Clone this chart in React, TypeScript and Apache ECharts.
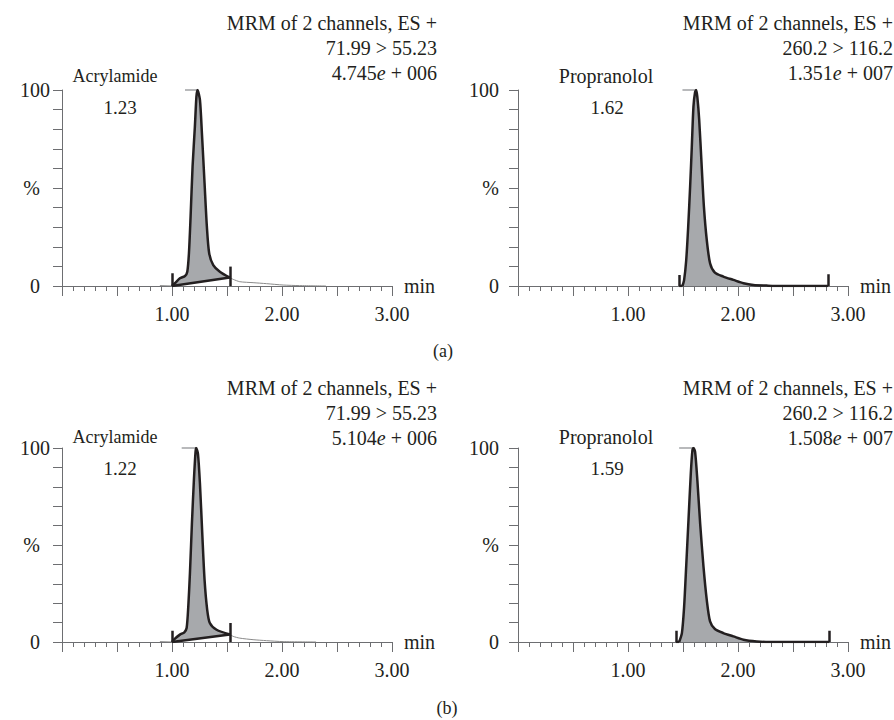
import React, { useEffect, useRef } from 'react';
import * as echarts from 'echarts';

const FONT = '"Liberation Serif","Times New Roman",serif';
const INK = '#231f20';
const AXIS = '#6d6e71';
const FILL = '#a7a9ac';
const THIN = '#8a8a8a';
const APEX = '#a0a2a5';

// axes
const xMin = 0;
const xMax = 3;
const xInterval = 0.5;
const yMin = 0;
const yMax = 100;
const yInterval = 10;
const xLabelValues = [1, 2, 3];
const yLabelValues = [0, 50, 100];
const yLabelTexts = ['0', '%', '100'];

// (a) Acrylamide
const acrA_pre = [[0.89, 0.2], [1.0, 0]];
const acrA_peak = [[1.0, 0], [1.027, 1.4], [1.072, 3.9], [1.118, 5.1], [1.139, 7.3], [1.154, 16.7], [1.169, 35.4], [1.187, 60.9], [1.208, 81.3], [1.222, 96.6], [1.232, 100], [1.254, 94.9], [1.272, 77.9], [1.296, 52.4], [1.317, 30.3], [1.338, 16.7], [1.375, 10.7], [1.435, 7.3], [1.526, 4.3]];
const acrA_tail = [[1.526, 4.3], [1.556, 3.4], [1.616, 2.2], [1.737, 1.7], [1.858, 1.2], [2.01, 0.5], [2.16, 0.2], [2.4, 0]];
const acrA_base = [[1.0, 0], [1.526, 4.3]];
const acrA_markers = [[1.0, 6.5], [1.526, 9.9]];
const acrA_apex = [1.118, 1.232];

// (a) Propranolol
const proA_peak = [[1.495, 0], [1.51, 3], [1.529, 13], [1.547, 30], [1.565, 51], [1.58, 71], [1.595, 91.5], [1.61, 99], [1.62, 100], [1.63, 96.6], [1.647, 85], [1.67, 61], [1.69, 40.5], [1.716, 23.5], [1.746, 11.6], [1.79, 6.8], [1.867, 4.8], [1.958, 3.1], [2.05, 1.4], [2.14, 0.5], [2.26, 0.2], [2.38, 0], [2.82, 0]];
const proA_base = [[1.465, 0], [1.495, 0]];
const proA_markers = [[1.465, 5.6], [2.82, 6.0]];
const proA_apex = [1.495, 1.61];

// (b) Acrylamide
const acrB_pre = [[0.89, 0.2], [1.0, 0]];
const acrB_peak = [[1.0, 0], [1.027, 1.7], [1.072, 3.8], [1.112, 5], [1.133, 7.2], [1.148, 18.3], [1.163, 35.4], [1.181, 61], [1.199, 83.4], [1.214, 98], [1.22, 100], [1.236, 97], [1.254, 81.7], [1.275, 56], [1.296, 32], [1.32, 16.6], [1.344, 9.8], [1.405, 6.3], [1.526, 3.9]];
const acrB_tail = [[1.526, 3.9], [1.556, 2.9], [1.616, 2.0], [1.737, 1.2], [1.858, 0.7], [2.01, 0.2], [2.31, 0]];
const acrB_base = [[1.0, 0], [1.526, 3.9]];
const acrB_markers = [[1.0, 5.8], [1.526, 9.8]];
const acrB_apex = [1.088, 1.22];

// (b) Propranolol
const proB_peak = [[1.465, 0], [1.49, 4.6], [1.51, 18], [1.529, 39], [1.55, 63], [1.571, 87], [1.586, 99], [1.595, 100], [1.61, 98], [1.631, 83], [1.656, 61], [1.686, 39], [1.716, 21.7], [1.746, 10.6], [1.79, 6.7], [1.867, 4.6], [1.958, 2.9], [2.05, 1.2], [2.17, 0.3], [2.29, 0], [2.83, 0]];
const proB_base = [[1.435, 0], [1.465, 0]];
const proB_markers = [[1.435, 5.8], [2.83, 5.8]];
const proB_apex = [1.465, 1.586];

// texts
const panelTitles = [
  ['MRM of 2 channels, ES +', '71.99 > 55.23', '4.745{i|e} + 006'],
  ['MRM of 2 channels, ES +', '260.2 > 116.2', '1.351{i|e} + 007'],
  ['MRM of 2 channels, ES +', '71.99 > 55.23', '5.104{i|e} + 006'],
  ['MRM of 2 channels, ES +', '260.2 > 116.2', '1.508{i|e} + 007'],
];
const compoundNames = ['Acrylamide', 'Propranolol', 'Acrylamide', 'Propranolol'];
const retentionTimes = ['1.23', '1.62', '1.22', '1.59'];
const subLabels = ['(a)', '(b)'];

const grids = [
  { left: 62, top: 90, width: 330, height: 196 },
  { left: 518, top: 90, width: 330, height: 196 },
  { left: 62, top: 448, width: 330, height: 194 },
  { left: 518, top: 448, width: 330, height: 194 },
];

const panels = [
  { pre: acrA_pre, peak: acrA_peak, tail: acrA_tail, base: acrA_base, markers: acrA_markers, apex: acrA_apex, sloped: true },
  { pre: null, peak: proA_peak, tail: null, base: proA_base, markers: proA_markers, apex: proA_apex, sloped: false },
  { pre: acrB_pre, peak: acrB_peak, tail: acrB_tail, base: acrB_base, markers: acrB_markers, apex: acrB_apex, sloped: true },
  { pre: null, peak: proB_peak, tail: null, base: proB_base, markers: proB_markers, apex: proB_apex, sloped: false },
];

function buildOption() {
  const xAxis: any[] = [];
  const yAxis: any[] = [];
  const series: any[] = [];
  const graphic: any[] = [];

  grids.forEach((g, i) => {
    const leftCol = i % 2 === 0;
    xAxis.push({
      type: 'value', gridIndex: i, min: xMin, max: xMax, interval: xInterval,
      axisLine: { show: true, lineStyle: { color: AXIS, width: 1 } },
      axisTick: { show: true, length: 10, lineStyle: { color: AXIS, width: 1 } },
      minorTick: { show: true, splitNumber: 5, length: 5, lineStyle: { color: AXIS, width: 1 } },
      splitLine: { show: false },
      axisLabel: {
        margin: 18, color: INK, fontFamily: FONT, fontSize: 20,
        formatter: (v: number) => {
          const k = xLabelValues.findIndex((t) => Math.abs(t - v) < 1e-6);
          return k >= 0 ? xLabelValues[k].toFixed(2) : '';
        },
      },
      name: 'min', nameLocation: 'end', nameGap: 12,
      nameTextStyle: { color: INK, fontFamily: FONT, fontSize: 20, verticalAlign: 'middle' },
    });
    yAxis.push({
      type: 'value', gridIndex: i, min: yMin, max: yMax, interval: yInterval,
      axisLine: { show: true, lineStyle: { color: AXIS, width: 1 } },
      axisTick: { show: true, length: 9, lineStyle: { color: AXIS, width: 1 } },
      splitLine: { show: false },
      axisLabel: {
        margin: leftCol ? 12 : 19, color: INK, fontFamily: FONT, fontSize: 20,
        formatter: (v: number) => {
          const k = yLabelValues.findIndex((t) => Math.abs(t - v) < 1e-6);
          if (k < 0) return '';
          const t = yLabelTexts[k];
          if (leftCol && t !== '100') return '{p|' + t + '}';
          return t;
        },
        rich: { p: { padding: [0, 10, 0, 0], color: INK, fontFamily: FONT, fontSize: 20 } },
      },
    });

    const p = panels[i];
    const common = { xAxisIndex: i, yAxisIndex: i, symbol: 'none', silent: true, animation: false };
    if (p.pre) {
      series.push({ ...common, type: 'line', data: p.pre, z: 4, lineStyle: { color: THIN, width: 1 } });
    }
    series.push({
      ...common, type: 'line', data: p.peak, smooth: 0.25, z: 2,
      lineStyle: { width: 0, opacity: 0 }, areaStyle: { color: FILL, opacity: 1 },
    });
    if (p.sloped) {
      series.push({
        ...common, type: 'line', data: p.base, z: 3,
        lineStyle: { width: 0, opacity: 0 }, areaStyle: { color: '#ffffff', opacity: 1 },
      });
    }
    if (p.tail) {
      series.push({ ...common, type: 'line', data: p.tail, smooth: 0.25, z: 4, lineStyle: { color: THIN, width: 1 } });
    }
    series.push({
      ...common, type: 'line', data: p.peak, smooth: 0.25, z: 5,
      lineStyle: { color: INK, width: 2.5, join: 'round' },
    });
    series.push({
      ...common, type: 'line', data: p.base, z: 5,
      lineStyle: { color: INK, width: 2.5 },
      markLine: {
        silent: true, animation: false, symbol: ['none', 'none'], label: { show: false },
        lineStyle: { color: INK, width: 2.5, type: 'solid' },
        emphasis: { disabled: true },
        data: [
          [{ coord: [p.markers[0][0], 0] }, { coord: [p.markers[0][0], p.markers[0][1]] }],
          [{ coord: [p.markers[1][0], 0] }, { coord: [p.markers[1][0], p.markers[1][1]] }],
          [
            { coord: [p.apex[0], 100], lineStyle: { color: APEX, width: 1.5, type: 'solid' } },
            { coord: [p.apex[1], 100], lineStyle: { color: APEX, width: 1.5, type: 'solid' } },
          ],
        ],
      },
    });

    // annotations
    const titleRight = leftCol ? 437 : 893;
    const titleTop = i < 2 ? 23 : 388;
    panelTitles[i].forEach((line, li) => {
      graphic.push({
        type: 'text', x: titleRight, y: titleTop + li * 25, silent: true,
        style: {
          text: line, align: 'right', verticalAlign: 'middle',
          fontFamily: FONT, fontSize: 20, fill: INK,
          rich: { i: { fontStyle: 'italic', fontFamily: FONT, fontSize: 20, fill: INK } },
        },
      });
    });
    const nameX = leftCol ? 115 : 606;
    const nameY = i < 2 ? 76 : 437;
    graphic.push({
      type: 'text', x: nameX, y: nameY, silent: true,
      style: { text: compoundNames[i], align: 'center', verticalAlign: 'middle', fontFamily: FONT, fontSize: leftCol ? 18 : 20, fill: INK },
    });
    graphic.push({
      type: 'text', x: leftCol ? 120 : 607, y: nameY + 31, silent: true,
      style: { text: retentionTimes[i], align: 'center', verticalAlign: 'middle', fontFamily: FONT, fontSize: 19, fill: INK },
    });
  });

  graphic.push({
    type: 'text', x: 443, y: 351, silent: true,
    style: { text: subLabels[0], align: 'center', verticalAlign: 'middle', fontFamily: FONT, fontSize: 18, fill: INK },
  });
  graphic.push({
    type: 'text', x: 447, y: 708, silent: true,
    style: { text: subLabels[1], align: 'center', verticalAlign: 'middle', fontFamily: FONT, fontSize: 18, fill: INK },
  });

  return {
    animation: false,
    backgroundColor: '#ffffff',
    grid: grids.map((g) => ({ ...g, containLabel: false })),
    xAxis,
    yAxis,
    series,
    graphic,
  };
}

export default function App() {
  const ref = useRef<HTMLDivElement | null>(null);
  useEffect(() => {
    if (!ref.current) return;
    const chart = echarts.init(ref.current, null, { renderer: 'svg' });
    chart.setOption(buildOption() as any);
    return () => chart.dispose();
  }, []);
  return (
    <div
      ref={ref}
      style={{ position: 'absolute', left: 0, top: 0, width: 894, height: 720, background: '#fff' }}
    />
  );
}
